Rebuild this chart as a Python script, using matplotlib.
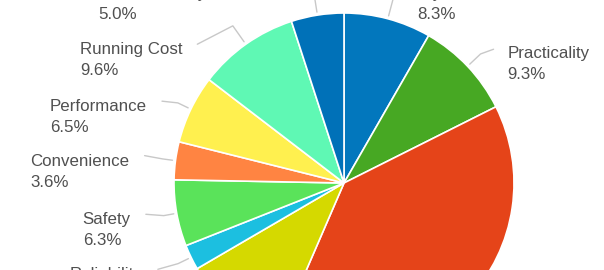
import numpy as np
import matplotlib.pyplot as plt

# DATA (slices clockwise from 12 o'clock)
categories = ["Style", "Practicality", "Price", "Comfort", "Reliability",
              "Safety", "Convenience", "Performance", "Running Cost", "Fuel Economy"]
shares = [8.3, 9.3, 38.9, 10.1, 2.4, 6.3, 3.6, 6.5, 9.6, 5.0]
colors = ["#0277bd", "#47a823", "#e54419", "#d5d900", "#1cbfe0",
          "#5ae35a", "#ff8442", "#fff04f", "#5ff8b4", "#0071b8"]

# LAYOUT: where each label block sits relative to its wedge rim (px)
label_offsets = [(29, -27), (40, -14), (40, 10), (-100, 10), (-121, 16),
                 (-94, 5), (-145, -1), (-141, -4), (-166, 4), (-219, -23)]

W, H = 604, 270
cx, cy, R = 344, 183, 170
text_col = "#505050"
line_col = "#c8c8c8"
fs = 12.2

plt.rcParams['font.family'] = ['Liberation Sans', 'DejaVu Sans']

fig = plt.figure(figsize=(W / 100, H / 100), dpi=100)
ax = fig.add_axes([0, 0, 1, 1])

# y is flipped below, so counterclockwise in data = clockwise on screen
wedges, _ = ax.pie(shares, colors=colors, center=(cx, cy), radius=R,
                   startangle=-90, counterclock=True,
                   wedgeprops=dict(edgecolor="white", linewidth=1.2))
ax.set_xlim(0, W)
ax.set_ylim(H, 0)
ax.set_aspect('auto')
ax.axis('off')

fig.canvas.draw()
renderer = fig.canvas.get_renderer()
inv = ax.transData.inverted()

for w, name, val, (dx, dy) in zip(wedges, categories, shares, label_offsets):
    mid = np.deg2rad((w.theta1 + w.theta2) / 2)
    ux, uy = np.cos(mid), np.sin(mid)
    ex, ey = cx + R * ux, cy + R * uy
    tx, ty = ex + dx, ey + dy
    t1 = ax.text(tx, ty + 6, name, fontsize=fs, color=text_col,
                 ha='left', va='baseline')
    ax.text(tx, ty + 27, f"{val:.1f}%", fontsize=fs, color=text_col,
            ha='left', va='baseline')

    bb = t1.get_window_extent(renderer)
    (x0, _), (x1, _) = inv.transform([[bb.x0, bb.y0], [bb.x1, bb.y1]])
    if dx < 0:
        conn = (x1 + 15, ty - 4)
    else:
        conn = (x0 - 14, ty - 3)
    k = 13 / max(abs(ux), 0.3)
    sx, sy = ex + 3 * ux, ey + 3 * uy
    bx, by = ex + k * ux, ey + k * uy
    ax.plot([sx, bx, conn[0]], [sy, by, conn[1]], color=line_col, lw=1,
            solid_capstyle='round', zorder=0)

fig.savefig("out.png", dpi=100)
